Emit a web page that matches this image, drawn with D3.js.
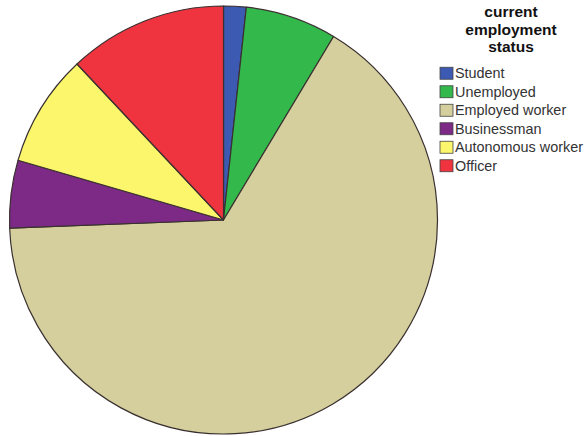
<!DOCTYPE html>
<html>
<head>
<meta charset="utf-8">
<script src="https://cdn.jsdelivr.net/npm/d3@7"></script>
<style>
  body { margin: 0; background: #fff; }
  svg { display: block; }
</style>
</head>
<body>
<div id="chart"></div>
<script>
// categories and their percentages
var categories = ["Student", "Unemployed", "Employed worker", "Businessman", "Autonomous worker", "Officer"];
var values = [1.7, 6.9, 65.8, 5.1, 8.5, 12.0];
var colors = ["#3c5ab2", "#32b84b", "#d4cf9c", "#7c2a86", "#fbf66b", "#ef3440"];
var titleLines = ["current", "employment", "status"];

var width = 587, height = 436;
var cx = 223.5, cy = 220, radius = 214;

var svg = d3.select("#chart")
    .append("svg")
    .attr("width", width)
    .attr("height", height);

var data = categories.map(function (c, i) { return { name: c, value: values[i], color: colors[i] }; });

var pie = d3.pie()
    .value(function (d) { return d.value; })
    .sort(null);

var arc = d3.arc()
    .innerRadius(0)
    .outerRadius(radius);

var g = svg.append("g")
    .attr("transform", "translate(" + cx + "," + cy + ")");

g.selectAll("path")
    .data(pie(data))
    .enter()
    .append("path")
    .attr("d", arc)
    .attr("fill", function (d) { return d.data.color; })
    .attr("stroke", "#3a3030")
    .attr("stroke-width", 1.2)
    .attr("stroke-linejoin", "round");

// legend title
svg.append("text")
    .attr("x", 511)
    .attr("y", 17)
    .attr("text-anchor", "middle")
    .style("font-family", "Liberation Sans, Arial, sans-serif")
    .style("font-size", "15.5px")
    .style("font-weight", "bold")
    .style("fill", "#111")
    .selectAll("tspan")
    .data(titleLines)
    .enter()
    .append("tspan")
    .attr("x", 511)
    .attr("dy", function (d, i) { return i === 0 ? 0 : 17.5; })
    .text(function (d) { return d; });

// legend items
var y = d3.scaleBand()
    .domain(categories)
    .range([64, 175]);

var item = svg.append("g")
    .selectAll("g")
    .data(data)
    .enter()
    .append("g")
    .attr("transform", function (d) { return "translate(440," + y(d.name) + ")"; });

item.append("rect")
    .attr("x", 0)
    .attr("y", (y.bandwidth() - 12) / 2)
    .attr("width", 13)
    .attr("height", 12)
    .attr("fill", function (d) { return d.color; })
    .attr("stroke", "#444")
    .attr("stroke-width", 0.8);

item.append("text")
    .attr("x", 15)
    .attr("y", y.bandwidth() / 2)
    .attr("dy", "0.35em")
    .style("font-family", "Liberation Sans, Arial, sans-serif")
    .style("font-size", "14.4px")
    .style("fill", "#333")
    .text(function (d) { return d.name; });
</script>
</body>
</html>
